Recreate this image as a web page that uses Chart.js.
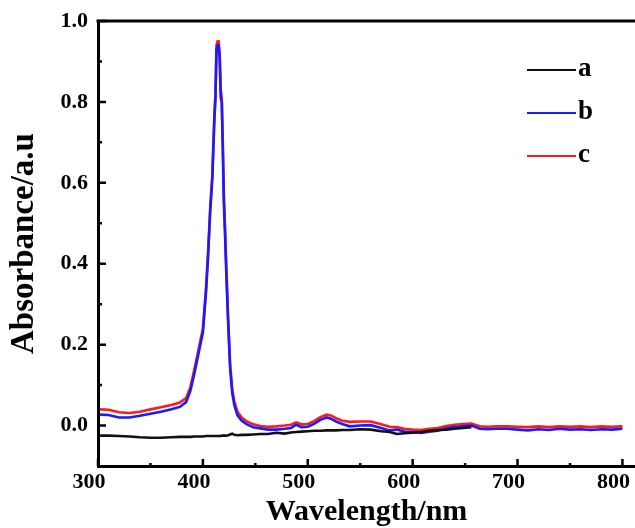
<!DOCTYPE html>
<html>
<head>
<meta charset="utf-8">
<script src="https://cdn.jsdelivr.net/npm/chart.js@4.4.1/dist/chart.umd.min.js"></script>
<style>
  body { margin: 0; background: #fff; }
</style>
</head>
<body>
<canvas id="myCanvas" width="635" height="528"></canvas>
<script>
// wavelength (nm) shared by all three spectra
const wavelength = [302, 310, 320, 330, 340, 350, 360, 370, 378, 384, 388, 392, 396, 400, 403, 405, 407, 409, 411, 412, 413, 414, 415, 416, 417, 418, 419, 420, 421, 422, 424, 426, 428, 430, 433, 437, 442, 448, 455, 462, 470, 478, 484, 489, 494, 500, 506, 512, 518, 522, 527, 533, 540, 550, 560, 570, 578, 585, 592, 600, 608, 616, 624, 632, 640, 648, 656, 664, 672, 680, 690, 700, 710, 720, 730, 740, 750, 760, 770, 780, 790, 800];

// a = black, stops around 656 nm
const seriesA = [-0.025, -0.025, -0.026, -0.027, -0.029, -0.030, -0.030, -0.029, -0.028, -0.028, -0.028, -0.027, -0.027, -0.027, -0.026, -0.026, -0.026, -0.026, -0.026, -0.026, -0.026, -0.026, -0.026, -0.026, -0.026, -0.025, -0.025, -0.025, -0.025, -0.025, -0.024, -0.022, -0.020, -0.023, -0.024, -0.023, -0.023, -0.022, -0.021, -0.021, -0.018, -0.020, -0.017, -0.016, -0.015, -0.014, -0.013, -0.013, -0.012, -0.012, -0.012, -0.011, -0.011, -0.009, -0.010, -0.014, -0.016, -0.021, -0.019, -0.018, -0.016, -0.013, -0.011, -0.010, -0.008, -0.006, -0.004, null, null, null, null, null, null, null, null, null, null, null, null, null, null, null];

// b = blue
const seriesB = [0.027, 0.026, 0.020, 0.020, 0.024, 0.029, 0.034, 0.040, 0.046, 0.058, 0.085, 0.13, 0.18, 0.23, 0.33, 0.42, 0.53, 0.61, 0.76, 0.81, 0.93, 0.94, 0.94, 0.91, 0.81, 0.80, 0.68, 0.55, 0.48, 0.40, 0.26, 0.14, 0.08, 0.05, 0.025, 0.012, 0.003, -0.004, -0.007, -0.010, -0.010, -0.008, -0.006, 0.002, -0.004, -0.003, 0.004, 0.014, 0.020, 0.017, 0.010, 0.004, -0.002, 0.000, 0.001, -0.006, -0.012, -0.010, -0.015, -0.016, -0.018, -0.015, -0.013, -0.007, -0.004, -0.002, 0.000, -0.008, -0.009, -0.008, -0.008, -0.010, -0.012, -0.009, -0.011, -0.008, -0.010, -0.009, -0.011, -0.009, -0.010, -0.008];

// c = red
const seriesC = [0.040, 0.039, 0.033, 0.031, 0.034, 0.040, 0.045, 0.051, 0.057, 0.068, 0.094, 0.14, 0.19, 0.24, 0.34, 0.43, 0.54, 0.62, 0.77, 0.82, 0.94, 0.95, 0.95, 0.92, 0.83, 0.81, 0.70, 0.57, 0.50, 0.42, 0.27, 0.15, 0.09, 0.06, 0.034, 0.020, 0.010, 0.003, -0.001, -0.003, -0.002, 0.000, 0.002, 0.008, 0.003, 0.004, 0.011, 0.021, 0.027, 0.025, 0.018, 0.012, 0.009, 0.010, 0.010, 0.003, -0.003, -0.004, -0.008, -0.010, -0.011, -0.008, -0.006, -0.001, 0.002, 0.004, 0.005, -0.002, -0.003, -0.002, -0.002, -0.003, -0.004, -0.002, -0.004, -0.002, -0.003, -0.002, -0.004, -0.002, -0.003, -0.002];

const seriesLabels = ["a", "b", "c"];
const seriesColors = ["#111111", "#1a1aff", "#ff1a1a"];

const xTicks = [300, 400, 500, 600, 700, 800];
const yTicks = [0.0, 0.2, 0.4, 0.6, 0.8, 1.0];

const serif = "'Liberation Serif', 'Times New Roman', serif";

function pts(vals) {
  return wavelength.map((w, i) => ({ x: w, y: vals[i] }));
}

// inward tick marks + top frame line
const frame = {
  id: 'frame',
  afterDraw(chart) {
    const ctx = chart.ctx;
    const a = chart.chartArea;
    const xs = chart.scales.x, ys = chart.scales.y;
    ctx.save();
    ctx.strokeStyle = '#000';
    ctx.lineWidth = 3;
    ctx.beginPath();
    ctx.moveTo(a.left - 1.5, a.top);
    ctx.lineTo(chart.width, a.top);
    ctx.stroke();

    ctx.lineWidth = 2.5;
    ctx.beginPath();
    for (let i = 0; i < xTicks.length; i++) {
      let px = xs.getPixelForValue(xTicks[i]);
      ctx.moveTo(px, a.bottom);
      ctx.lineTo(px, a.bottom - 7);
      if (i < xTicks.length - 1) {
        let mx = xs.getPixelForValue((xTicks[i] + xTicks[i + 1]) / 2);
        ctx.moveTo(mx, a.bottom);
        ctx.lineTo(mx, a.bottom - 3);
      }
    }
    for (let i = 0; i < yTicks.length; i++) {
      let py = ys.getPixelForValue(yTicks[i]);
      ctx.moveTo(a.left, py);
      ctx.lineTo(a.left + 8, py);
      let my = ys.getPixelForValue(yTicks[i] - 0.1);
      if (my < a.bottom - 2) {
        ctx.moveTo(a.left, my);
        ctx.lineTo(a.left + 4, my);
      }
    }
    ctx.stroke();
    ctx.restore();
  }
};

// legend: short line then the letter, stacked at upper right
const sideLegend = {
  id: 'sideLegend',
  afterDraw(chart) {
    const ctx = chart.ctx;
    ctx.save();
    ctx.font = "bold 27px " + serif;
    ctx.textBaseline = 'middle';
    chart.data.datasets.forEach((ds, i) => {
      let y = 70 + i * 43;
      ctx.strokeStyle = ds.borderColor;
      ctx.lineWidth = 2;
      ctx.beginPath();
      ctx.moveTo(527, y);
      ctx.lineTo(576, y);
      ctx.stroke();
      ctx.fillStyle = '#000';
      ctx.fillText(ds.label, 578, y - 1);
    });
    ctx.restore();
  }
};

const ctx = document.getElementById("myCanvas");
new Chart(ctx, {
  type: "line",
  data: {
    datasets: [
      { label: seriesLabels[0], data: pts(seriesA), borderColor: seriesColors[0] },
      { label: seriesLabels[1], data: pts(seriesB), borderColor: seriesColors[1] },
      { label: seriesLabels[2], data: pts(seriesC), borderColor: seriesColors[2] }
    ]
  },
  options: {
    responsive: false,
    animation: false,
    spanGaps: false,
    layout: { padding: { top: 21, right: 0, left: 0, bottom: 0 } },
    elements: {
      point: { radius: 0 },
      line: { borderWidth: 2.6, tension: 0 }
    },
    plugins: {
      legend: { display: false },
      tooltip: { enabled: false }
    },
    scales: {
      x: {
        type: "linear",
        min: 300,
        max: 812,
        afterFit: (s) => { s.height = 62; s.paddingLeft = 0; s.paddingRight = 0; },
        afterBuildTicks: (s) => { s.ticks = xTicks.map(v => ({ value: v })); },
        grid: { display: false, drawTicks: false },
        border: { display: true, color: '#000', width: 3 },
        ticks: {
          color: '#000',
          padding: 3,
          labelOffset: -9,
          maxRotation: 0,
          font: { family: serif, size: 22, weight: 'bold' },
          callback: (v) => String(v)
        },
        title: {
          display: true,
          text: "Wavelength/nm",
          color: '#000',
          padding: { top: 0, bottom: -2 },
          font: { family: serif, size: 30, weight: 'bold' }
        }
      },
      y: {
        min: -0.1,
        max: 1.0,
        afterFit: (s) => { s.width = 98; s.paddingTop = 0; s.paddingBottom = 0; },
        afterBuildTicks: (s) => { s.ticks = yTicks.map(v => ({ value: v })); },
        grid: { display: false, drawTicks: false },
        border: { display: true, color: '#000', width: 3 },
        ticks: {
          color: '#000',
          padding: 10,
          font: { family: serif, size: 22, weight: 'bold' },
          callback: (v) => v.toFixed(1)
        },
        title: {
          display: true,
          text: "Absorbance/a.u",
          color: '#000',
          padding: { top: 5, bottom: 0 },
          font: { family: serif, size: 33, weight: 'bold' }
        }
      }
    }
  },
  plugins: [frame, sideLegend]
});
</script>
</body>
</html>
